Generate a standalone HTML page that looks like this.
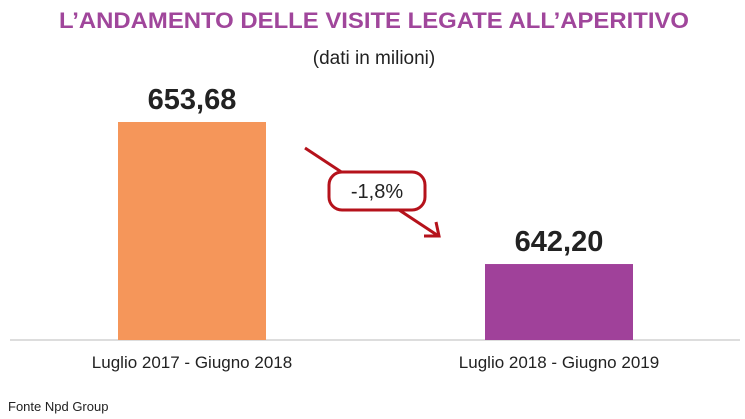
<!DOCTYPE html>
<html><head><meta charset="utf-8"><style>
body{margin:0;background:#fff;}
svg{display:block;font-family:"Liberation Sans",sans-serif;}
</style></head><body>
<svg id="chart" width="745" height="419" viewBox="0 0 745 419">
<text x="374" y="28" text-anchor="middle" font-size="22" font-weight="bold" fill="#a0469b" textLength="630" lengthAdjust="spacingAndGlyphs">L’ANDAMENTO DELLE VISITE LEGATE ALL’APERITIVO</text>
<text x="374" y="64" text-anchor="middle" font-size="19" fill="#222">(dati in milioni)</text>
<line x1="10" y1="340" x2="740" y2="340" stroke="#bbb" stroke-width="1"/>
<g id="bars"></g>
<g>
<line x1="305" y1="148" x2="437" y2="235" stroke="#b5121b" stroke-width="3"/>
<polyline points="424,236 439,236 436,222" fill="none" stroke="#b5121b" stroke-width="3"/>
<rect x="329" y="172" width="96" height="38" rx="13" fill="#fff" stroke="#b5121b" stroke-width="3"/>
<text x="377" y="198" text-anchor="middle" font-size="20" fill="#222">-1,8%</text>
</g>
<text x="8" y="411" font-size="13" fill="#222">Fonte Npd Group</text>
</svg>
<script>
const categories = ["Luglio 2017 - Giugno 2018", "Luglio 2018 - Giugno 2019"];
const values = [653.68, 642.20];
const valueLabels = ["653,68", "642,20"];
const colors = ["#f5965a", "#a0419a"];
const ns = "http://www.w3.org/2000/svg";
const g = document.getElementById("bars");
const yMin = 636.06, yMax = 653.68, y0 = 340, yTop = 122;
function y(v){ return y0 - (v - yMin) / (yMax - yMin) * (y0 - yTop); }
const centers = [192, 559], bw = 148;
values.forEach((v,i)=>{
  const r = document.createElementNS(ns,"rect");
  
  
  r.setAttribute("x", centers[i]-bw/2);
  r.setAttribute("y", y(v));
  r.setAttribute("width", bw);
  r.setAttribute("height", y0 - y(v));
  r.setAttribute("fill", colors[i]);
  g.appendChild(r);
  const t = document.createElementNS(ns,"text");
  
  
  t.setAttribute("x", centers[i]);
  t.setAttribute("y", y(v) - 13);
  t.setAttribute("text-anchor","middle");
  t.setAttribute("font-size","29");
  t.setAttribute("font-weight","bold");
  t.setAttribute("fill","#222");
  t.textContent = valueLabels[i];
  g.appendChild(t);
  const c = document.createElementNS(ns,"text");
  
  
  c.setAttribute("x", centers[i]);
  c.setAttribute("y", 368);
  c.setAttribute("text-anchor","middle");
  c.setAttribute("font-size","17");
  c.setAttribute("fill","#222");
  c.textContent = categories[i];
  g.appendChild(c);
});
</script>
</body></html>
